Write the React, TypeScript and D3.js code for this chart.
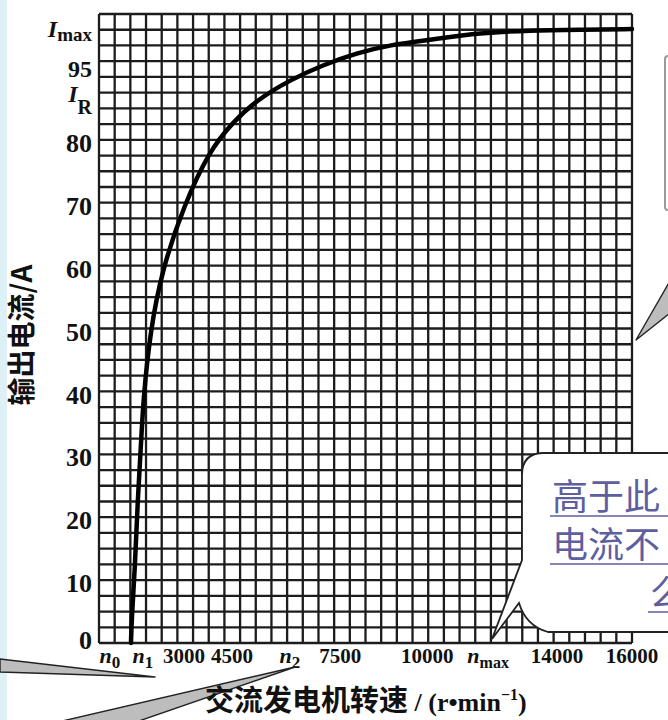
import * as d3 from "d3";

// alternator output current vs. speed
const speedRpm = [960, 980, 1080, 1160, 1280, 1330, 1530, 1890, 2550, 3330, 4020, 4730, 5730, 6720, 7740, 8740, 9940, 11440, 12940, 14440, 16000];
const currentA = [0, 3.7, 12, 22.7, 33.4, 38.6, 49.3, 59.3, 69.6, 78.4, 82.8, 86.3, 89.5, 91.9, 93.8, 95.1, 95.9, 97, 97.4, 97.5, 97.6];

// tick labels sit where the textbook put them, not on a regular step
const xTickText = ["n0", "n1", "3000", "4500", "n2", "7500", "10000", "nmax", "14000", "16000"];
const xTickAt = [330, 1320, 2550, 3990, 5730, 7240, 9850, 11680, 13750, 16000];
const yTickText = ["0", "10", "20", "30", "40", "50", "60", "70", "80", "IR", "95", "Imax"];
const yTickAt = [1, 10, 20, 30, 40, 50, 60, 70, 80, 87.8, 91.8, 98.2];

const gridCols = 34;
const gridRows = 40;

const calloutLines = ["高于此", "电流不", "么"];

const W = 668;
const H = 720;
const plot = { left: 99, right: 632, top: 14, bottom: 643 };
const serif = "'Liberation Serif', 'DejaVu Serif', serif";
const cjk = "'Noto Sans CJK SC', sans-serif";

function splitLabel(label: string) {
  if (label.startsWith("n")) return { main: "n", sub: label.slice(1) };
  if (label.startsWith("I")) return { main: "I", sub: label.slice(1) };
  return { main: label, sub: "" };
}

export default function App() {
  const x = d3.scaleLinear().domain([0, 16000]).range([plot.left, plot.right]);
  const y = d3.scaleLinear().domain([0, 100]).range([plot.bottom, plot.top]);

  const points = speedRpm.map((s, i) => [s, currentA[i]] as [number, number]);
  const line = d3
    .line<[number, number]>()
    .x((d) => x(d[0]))
    .y((d) => y(d[1]))
    .curve(d3.curveBasis);

  const xGrid = d3.range(gridCols + 1).map((i) => (i * 16000) / gridCols);
  const yGrid = d3.range(gridRows + 1).map((i) => (i * 100) / gridRows);

  return (
    <svg
      width={W}
      height={H}
      viewBox={`0 0 ${W} ${H}`}
      style={{ position: "absolute", left: 0, top: 0, background: "#fff" }}
    >
      <rect x={0} y={0} width={7} height={H} fill="#dcf0f6" />

      {/* grid paper */}
      <g stroke="#1c1c1c" strokeWidth={2.3}>
        {xGrid.map((v, i) => (
          <line key={"gx" + i} x1={x(v)} x2={x(v)} y1={plot.top} y2={plot.bottom} />
        ))}
        {yGrid.map((v, i) => (
          <line key={"gy" + i} x1={plot.left} x2={plot.right} y1={y(v)} y2={y(v)} />
        ))}
      </g>

      <path d={line(points) ?? ""} fill="none" stroke="#000" strokeWidth={4.5} strokeLinecap="round" />

      {/* y tick labels */}
      <g fontFamily={serif} fontWeight="bold" fill="#111" textAnchor="end">
        {yTickText.map((t, i) => {
          const { main, sub } = splitLabel(t);
          const cy = y(yTickAt[i]) + 3;
          if (!sub) {
            return (
              <text key={t} x={92} y={cy} dy="0.35em" fontSize={main === "95" ? 24 : 26}>
                {main}
              </text>
            );
          }
          const isMax = sub === "max";
          return (
            <text key={t} x={92} y={cy} dy="0.35em" fontSize={24}>
              <tspan fontStyle="italic">{main}</tspan>
              <tspan fontSize={isMax ? 19 : 20} dy={isMax ? 4 : 12}>
                {sub}
              </tspan>
            </text>
          );
        })}
      </g>

      {/* x tick labels */}
      <g fontFamily={serif} fontWeight="bold" fill="#111" textAnchor="middle">
        {xTickText.map((t, i) => {
          const { main, sub } = splitLabel(t);
          return (
            <text key={t} x={x(xTickAt[i])} y={663} fontSize={21}>
              {sub ? (
                <>
                  <tspan fontStyle="italic" fontSize={22}>{main}</tspan>
                  <tspan fontSize={sub === "max" ? 16 : 17} dy={5}>
                    {sub}
                  </tspan>
                </>
              ) : (
                main
              )}
            </text>
          );
        })}
      </g>

      {/* pointer wedges from neighbouring callouts */}
      <g fill="#bdbdbd" stroke="#222" strokeWidth={1.4} strokeLinejoin="round">
        <path d="M0,659 L155,677 L0,672 Z" />
        <path d="M58,722 L295,667 L136,722 Z" />
        <path d="M670,281 L636,340 L670,313 Z" />
      </g>

      {/* axis titles */}
      <text
        transform="translate(22,335) rotate(-90)"
        textAnchor="middle"
        dy="0.35em"
        fontFamily={cjk}
        fontWeight="bold"
        fontSize={28}
        fill="#111"
      >
        输出电流/A
      </text>
      <text x={205} y={711} fill="#111" fontWeight="bold">
        <tspan fontFamily={cjk} fontSize={29}>交流发电机转速</tspan>
        <tspan fontFamily={serif} fontSize={26}> / (r•min</tspan>
        <tspan fontFamily={serif} fontSize={16} dy={-11}>−1</tspan>
        <tspan fontFamily={serif} fontSize={26} dy={11}>)</tspan>
      </text>

      {/* top-right callout edge */}
      <rect x={665} y={56} width={30} height={154} rx={3} fill="#fff" stroke="#9a9a9a" strokeWidth={2} />

      {/* bottom-right callout */}
      <path
        d="M690,453 L544,453 Q522,453 522,475 L522,560 L492,639 L519,603 Q526,626 548,632 L690,632 Z"
        fill="#fff"
        stroke="#222"
        strokeWidth={1.8}
      />
      <g fontFamily={cjk} fontSize={36} fill="#5d5fa0">
        {calloutLines.map((t, i) => {
          const lx = i === 2 ? 650 : 552;
          const by = 510 + i * 48;
          return (
            <g key={t}>
              <text x={lx} y={by}>
                {t}
              </text>
              <line x1={lx - 2} x2={W} y1={by + 6} y2={by + 6} stroke="#5d5fa0" strokeWidth={1.5} />
            </g>
          );
        })}
      </g>
    </svg>
  );
}
